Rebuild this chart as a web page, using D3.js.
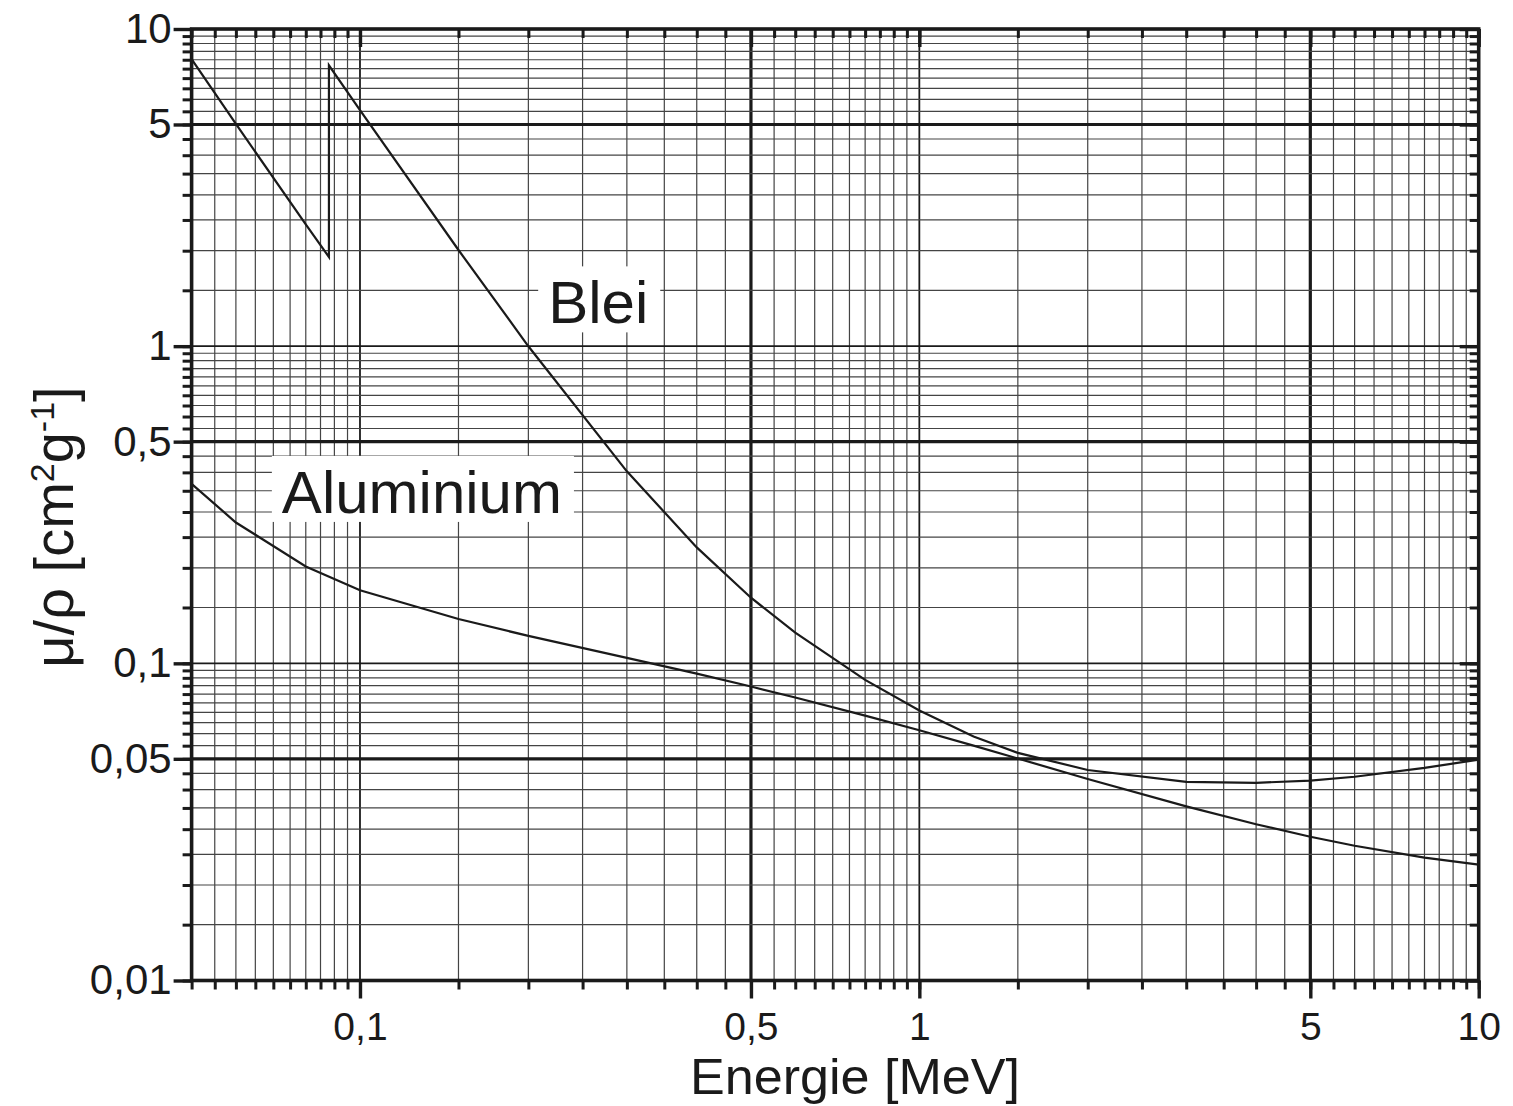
<!DOCTYPE html>
<html><head><meta charset="utf-8">
<script src="https://cdn.jsdelivr.net/npm/d3@7"></script>
<style>
body{margin:0;background:#fff}
svg{display:block}
text{font-family:Arial,"Liberation Sans",Helvetica,sans-serif;fill:#1a1a1a}
</style>
</head><body>
<svg id="c" width="1513" height="1106"></svg>
<script>
// ---- data (mass attenuation coefficient, cm^2/g) ----
const bleiEnergies = [0.05,0.06,0.08,0.088,0.088,0.1,0.15,0.2,0.3,0.4,0.5,0.6,0.8,1,1.25,1.5,2,3,4,5,6,8,10];
const bleiValues   = [8.04,5.02,2.42,1.91,7.68,5.55,2.01,0.999,0.403,0.232,0.161,0.125,0.0887,0.0710,0.0588,0.0522,0.0461,0.0423,0.0420,0.0427,0.0439,0.0468,0.0497];
const alEnergies   = [0.05,0.06,0.08,0.1,0.15,0.2,0.3,0.4,0.5,0.6,0.8,1,1.25,1.5,2,3,4,5,6,8,10];
const alValues     = [0.368,0.278,0.202,0.170,0.138,0.122,0.104,0.0928,0.0845,0.0780,0.0684,0.0615,0.0550,0.0501,0.0432,0.0354,0.0311,0.0284,0.0266,0.0244,0.0232];

const xTickLabels = [0.1,0.5,1,5,10];
const yTickLabels = [0.01,0.05,0.1,0.5,1,5,10];
const xThick = [0.5,5], xMedium = [0.1,1];
const yThick = [0.05,0.5,5], yMedium = [0.1,1];
const mantissas = [1,1.5,2,2.5,3,3.5,4,4.5,5,5.5,6,6.5,7,7.5,8,8.5,9,9.5];
const decades = [0.001,0.01,0.1,1,10];
const xLabel = "Energie [MeV]";
const labels = [{text:"Blei", e:0.217, v:1.18},{text:"Aluminium", e:0.0725, v:0.298}];

// ---- scales ----
const x = d3.scaleLog().domain([0.05,10]).range([191.6,1478.7]);
const y = d3.scaleLog().domain([0.01,10]).range([980.5,29]);
const svg = d3.select("#c");
const loc = d3.formatLocale({decimal:",",thousands:".",grouping:[3],currency:["","€"]});
const fmt = loc.format("~g");
const ink = "#1a1a1a";

function minorVals(dom){
  const out=[];
  decades.forEach(d=>mantissas.forEach(m=>{
    const v=+(m*d).toPrecision(6);
    if(v>=dom[0]*0.9999 && v<=dom[1]*1.0001) out.push(v);
  }));
  return out;
}
const xMinor = minorVals(x.domain());
const yMinor = minorVals(y.domain());
const has=(arr,v)=>arr.some(a=>Math.abs(a-v)/v<1e-6);

// ---- grid ----
const grid = svg.append("g");
grid.selectAll("line.gx").data(xMinor).join("line").attr("class","gx")
  .attr("x1",d=>x(d)).attr("x2",d=>x(d)).attr("y1",y(10)).attr("y2",y(0.01))
  .attr("stroke",d=>has(xThick,d)||has(xMedium,d)?ink:"#444")
  .attr("stroke-width",d=>has(xThick,d)?3.2:has(xMedium,d)?1.8:1.2);
grid.selectAll("line.gy").data(yMinor).join("line").attr("class","gy")
  .attr("y1",d=>y(d)).attr("y2",d=>y(d)).attr("x1",x(0.05)).attr("x2",x(10))
  .attr("stroke",d=>has(yThick,d)||has(yMedium,d)?ink:"#444")
  .attr("stroke-width",d=>has(yThick,d)?3.2:has(yMedium,d)?1.8:1.2);

// ---- curves ----
const line = d3.line().x(d=>x(d[0])).y(d=>y(d[1]));
svg.append("path").datum(d3.zip(bleiEnergies,bleiValues)).attr("d",line)
  .attr("fill","none").attr("stroke",ink).attr("stroke-width",2.2).attr("stroke-linejoin","miter");
svg.append("path").datum(d3.zip(alEnergies,alValues)).attr("d",line)
  .attr("fill","none").attr("stroke",ink).attr("stroke-width",2.2);

// ---- curve labels with white boxes ----
labels.forEach(l=>{
  const g = svg.append("g");
  const rect = g.append("rect").attr("fill","#fff");
  const t = g.append("text").attr("x",x(l.e)).attr("y",y(l.v)).style("font-size","60px").text(l.text);
  const w = t.node().getComputedTextLength();
  rect.attr("x",x(l.e)-10).attr("y",y(l.v)-57).attr("width",w+22).attr("height",66);
});

// ---- axes ----
function styleAxis(g,w,fs){
  g.select(".domain").remove();
  g.selectAll(".tick line").attr("stroke",ink).attr("stroke-width",w);
  g.selectAll(".tick text").style("font-size",(fs||42)+"px").attr("fill",ink)
   .style("font-family",'Arial,"Liberation Sans",Helvetica,sans-serif');
}
const B=y(0.01), T=y(10), L=x(0.05), R=x(10);
svg.append("g").attr("transform",`translate(0,${B})`)
  .call(d3.axisBottom(x).tickValues(xMinor).tickSize(9).tickFormat("")).call(g=>styleAxis(g,3));
svg.append("g").attr("transform",`translate(0,${B})`)
  .call(d3.axisBottom(x).tickValues(xTickLabels).tickSize(18).tickPadding(14).tickFormat(fmt)).call(g=>styleAxis(g,3.4,39));
svg.append("g").attr("transform",`translate(${L},0)`)
  .call(d3.axisLeft(y).tickValues(yMinor).tickSize(9).tickFormat("")).call(g=>styleAxis(g,3));
svg.append("g").attr("transform",`translate(${L},0)`)
  .call(d3.axisLeft(y).tickValues(yTickLabels).tickSize(18).tickPadding(2).tickFormat(fmt)).call(g=>styleAxis(g,3.4,42));
svg.append("g").attr("transform",`translate(0,${T})`)
  .call(d3.axisTop(x).tickValues(xMinor).tickSize(-9).tickFormat("")).call(g=>styleAxis(g,3));
svg.append("g").attr("transform",`translate(0,${T})`)
  .call(d3.axisTop(x).tickValues(xTickLabels).tickSize(-18).tickFormat("")).call(g=>styleAxis(g,3.4));
svg.append("g").attr("transform",`translate(${R},0)`)
  .call(d3.axisRight(y).tickValues(yMinor).tickSize(-9).tickFormat("")).call(g=>styleAxis(g,3));
svg.append("g").attr("transform",`translate(${R},0)`)
  .call(d3.axisRight(y).tickValues(yTickLabels).tickSize(-19).tickFormat("")).call(g=>styleAxis(g,3.4));

// frame
svg.append("rect").attr("x",L).attr("y",T).attr("width",R-L).attr("height",B-T)
  .attr("fill","none").attr("stroke",ink).attr("stroke-width",3.6);

// ---- axis titles ----
svg.append("text").attr("x",855).attr("y",1094).attr("text-anchor","middle")
  .style("font-size","50px").attr("textLength",330).attr("lengthAdjust","spacingAndGlyphs").text(xLabel);

const yt = svg.append("text").attr("transform","translate(73,527) rotate(-90)")
  .attr("text-anchor","middle").style("font-size","56px");
yt.append("tspan").text("μ/ρ [cm");
yt.append("tspan").attr("dy",-19).style("font-size","34px").text("2");
yt.append("tspan").attr("dy",19).text("g");
yt.append("tspan").attr("dy",-19).style("font-size","34px").text("-1");
yt.append("tspan").attr("dy",19).text("]");
</script>
</body></html>
